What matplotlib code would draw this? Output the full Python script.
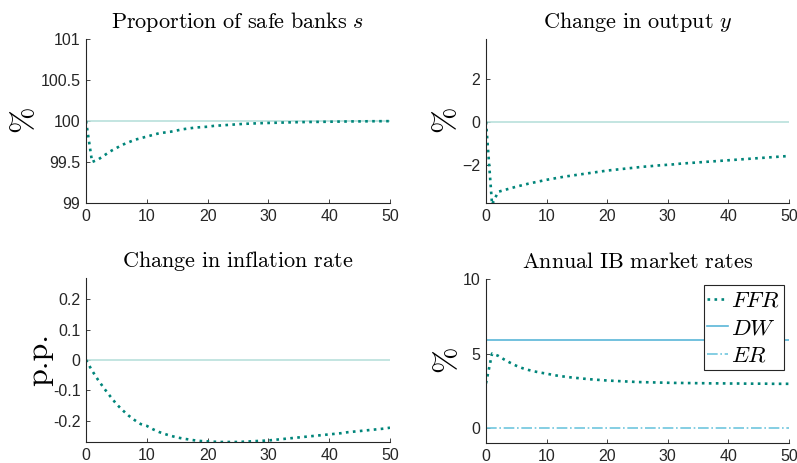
import numpy as np
import matplotlib
matplotlib.use('Agg')
import matplotlib.pyplot as plt

plt.rcParams['mathtext.fontset'] = 'cm'
plt.rcParams['font.family'] = ['Liberation Sans', 'DejaVu Sans']

# horizon (quarters)
t = np.arange(51)

# proportion of safe banks s (%)
safe_banks = [100.0, 99.50, 99.53, 99.58, 99.63, 99.67, 99.71, 99.74, 99.77, 99.79,
              99.81, 99.83, 99.85, 99.86, 99.87, 99.885, 99.90, 99.91, 99.92, 99.925,
              99.93, 99.94, 99.945, 99.95, 99.955, 99.96, 99.965, 99.968, 99.971, 99.974,
              99.976, 99.978, 99.98, 99.982, 99.984, 99.986, 99.987, 99.988, 99.989, 99.99,
              99.991, 99.992, 99.993, 99.994, 99.995, 99.995, 99.996, 99.997, 99.997, 99.998,
              99.998]
safe_ss = 100.0

# change in output y (%)
output = [0.0, -3.85, -3.26, -3.18, -3.10, -3.02, -2.95, -2.88, -2.82, -2.76,
          -2.70, -2.65, -2.60, -2.55, -2.51, -2.47, -2.43, -2.39, -2.35, -2.31,
          -2.27, -2.24, -2.21, -2.18, -2.15, -2.12, -2.09, -2.07, -2.04, -2.02,
          -2.00, -1.98, -1.95, -1.93, -1.91, -1.89, -1.87, -1.85, -1.83, -1.81,
          -1.79, -1.77, -1.75, -1.73, -1.71, -1.69, -1.67, -1.65, -1.63, -1.61,
          -1.59]

# change in inflation rate (p.p.)
inflation = [0.0, -0.035, -0.066, -0.094, -0.120, -0.145, -0.165, -0.183, -0.198, -0.211,
             -0.217, -0.228, -0.237, -0.244, -0.250, -0.255, -0.259, -0.262, -0.265, -0.267,
             -0.268, -0.269, -0.270, -0.270, -0.270, -0.270, -0.269, -0.268, -0.267, -0.266,
             -0.265, -0.263, -0.261, -0.259, -0.257, -0.255, -0.253, -0.251, -0.249, -0.247,
             -0.245, -0.243, -0.241, -0.238, -0.236, -0.234, -0.232, -0.230, -0.228, -0.226,
             -0.223]

# annual interbank market rates (%)
ffr = [3.0, 5.0, 4.85, 4.60, 4.38, 4.18, 4.02, 3.90, 3.80, 3.72,
       3.65, 3.57, 3.50, 3.45, 3.40, 3.36, 3.32, 3.28, 3.25, 3.22,
       3.19, 3.17, 3.15, 3.13, 3.11, 3.09, 3.08, 3.07, 3.06, 3.05,
       3.04, 3.03, 3.03, 3.02, 3.02, 3.01, 3.01, 3.00, 3.00, 3.00,
       2.99, 2.99, 2.99, 2.98, 2.98, 2.98, 2.98, 2.97, 2.97, 2.97,
       2.97]
dw_rate = 5.9
er_rate = 0.0

TEAL = '#00857a'
BASE = '#b9e0dc'
DW_COL = '#5ab6d8'
ER_COL = '#6fc6de'

fig = plt.figure(figsize=(7.97, 4.63), dpi=100)
positions = [[0.1079, 0.5616, 0.3814, 0.3542],
             [0.6098, 0.5616, 0.3802, 0.3542],
             [0.1079, 0.0454, 0.3814, 0.3542],
             [0.6098, 0.0432, 0.3802, 0.3542]]
axes = [fig.add_axes(p) for p in positions]

for ax in axes:
    ax.spines['top'].set_visible(False)
    ax.spines['right'].set_visible(False)
    ax.spines['left'].set_color('#262626')
    ax.spines['bottom'].set_color('#262626')
    ax.tick_params(direction='in', length=3, width=0.6, labelsize=11.5,
                   colors='#262626', pad=4)
    ax.set_xlim(0, 50)
    ax.set_xticks([0, 10, 20, 30, 40, 50])

ax = axes[0]
ax.axhline(safe_ss, color=BASE, lw=1.2)
ax.plot(t, safe_banks, ':', color=TEAL, lw=1.9)
ax.set_ylim(99, 101)
ax.set_yticks([99, 99.5, 100, 100.5, 101])
ax.set_yticklabels(['99', '99.5', '100', '100.5', '101'])
ax.set_title(r'$\mathrm{Proportion\ of\ safe\ banks}\ s$', fontsize=16, pad=8)
ax.set_ylabel(r'$\%$', fontsize=23, labelpad=0)

ax = axes[1]
ax.axhline(0, color=BASE, lw=1.2)
ax.plot(t, output, ':', color=TEAL, lw=1.9)
ax.set_ylim(-3.78, 3.86)
ax.set_yticks([-2, 0, 2])
ax.set_title(r'$\mathrm{Change\ in\ output}\ y$', fontsize=16, pad=8)
ax.set_ylabel(r'$\%$', fontsize=23, labelpad=0)

ax = axes[2]
ax.axhline(0, color=BASE, lw=1.2)
ax.plot(t, inflation, ':', color=TEAL, lw=1.9)
ax.set_ylim(-0.27, 0.27)
ax.set_yticks([-0.2, -0.1, 0, 0.1, 0.2])
ax.set_yticklabels(['-0.2', '-0.1', '0', '0.1', '0.2'])
ax.set_title(r'$\mathrm{Change\ in\ inflation\ rate}$', fontsize=16, pad=8)
ax.set_ylabel('p.p.', fontsize=23, family='cmr10', labelpad=0)

ax = axes[3]
ax.plot(t, ffr, ':', color=TEAL, lw=1.9, label=r'$FFR$')
ax.plot(t, np.full(len(t), dw_rate), '-', color=DW_COL, lw=1.2, label=r'$DW$')
ax.plot(t, np.full(len(t), er_rate), '-.', color=ER_COL, lw=1.2, label=r'$ER$')
ax.set_ylim(-1, 10)
ax.set_yticks([0, 5, 10])
ax.set_title(r'$\mathrm{Annual\ IB\ market\ rates}$', fontsize=16, pad=8)
ax.set_ylabel(r'$\%$', fontsize=23, labelpad=0)
leg = ax.legend(loc='upper right', bbox_to_anchor=(0.982, 0.962), fontsize=16.5,
                frameon=True, fancybox=False, framealpha=1, edgecolor='#262626',
                handlelength=0.9, handletextpad=0.15, borderpad=0.15,
                labelspacing=0.2, borderaxespad=0)
leg.get_frame().set_linewidth(0.8)

fig.savefig('out.png', dpi=100)
